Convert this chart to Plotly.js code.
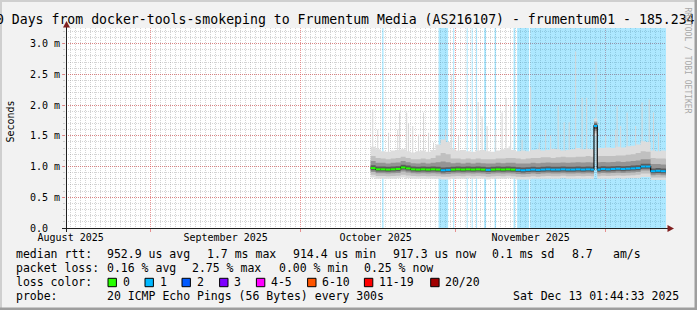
<!DOCTYPE html>
<html><head><meta charset="utf-8">
<script src="https://cdn.plot.ly/plotly-3.0.1.min.js"></script>
<style>html,body{margin:0;padding:0;background:#f2f2f2;}#chart{width:697px;height:310px;}</style>
</head><body><div id="chart"></div>
<script>
// ---------------- data ----------------
const rangeStart = '2025-08-15 01:44:33';
const rangeEnd = '2025-12-13 01:44:33';

const times = ['2025-10-15','2025-10-16','2025-10-17','2025-10-18','2025-10-19','2025-10-20','2025-10-21','2025-10-22','2025-10-23','2025-10-24','2025-10-25','2025-10-26','2025-10-27','2025-10-28','2025-10-29','2025-10-30','2025-10-31',
'2025-11-01','2025-11-02','2025-11-03','2025-11-04','2025-11-05','2025-11-06','2025-11-07','2025-11-08','2025-11-09','2025-11-10','2025-11-11','2025-11-12','2025-11-13','2025-11-14','2025-11-15','2025-11-16','2025-11-17','2025-11-18','2025-11-19','2025-11-20','2025-11-21','2025-11-22','2025-11-23','2025-11-24','2025-11-25','2025-11-26','2025-11-27','2025-11-28',
'2025-11-28 16:00','2025-11-29 08:00',
'2025-11-30','2025-12-01','2025-12-02','2025-12-03','2025-12-04','2025-12-05','2025-12-06','2025-12-07','2025-12-08','2025-12-09','2025-12-10','2025-12-11','2025-12-12','2025-12-13'];

// median rtt in ms
const medianMs = [0.975,0.955,0.955,0.95,0.955,0.96,0.985,0.97,0.955,0.95,0.955,0.95,0.955,0.95,0.94,0.945,0.95,
0.955,0.95,0.955,0.95,0.955,0.95,0.945,0.95,0.955,0.95,0.955,0.95,0.945,0.94,0.945,0.95,0.945,0.95,0.955,0.95,0.95,0.955,0.95,0.95,0.955,0.95,0.955,0.95,
1.66,0.95,
0.96,0.955,0.96,0.965,0.96,0.965,0.97,0.975,1.0,1.0,0.925,0.93,0.925,0.92];

// lost pings (of 20) per sample
const lostPings = [0,0,0,0,0,0,0,0,0,0,0,0,0,0,1,1,0,
0,0,0,0,0,0,1,0,0,0,0,0,1,1,1,1,1,1,1,1,1,1,1,1,1,1,1,1,
1,1,
1,1,1,1,1,1,1,1,1,1,1,1,1,1];

// smoke quantile bands (ms)
const smokeB0 = [0.82,0.80,0.80,0.80,0.80,0.81,0.82,0.81,0.80,0.80,0.80,0.80,0.80,0.80,0.79,0.79,0.80,
0.80,0.80,0.81,0.80,0.80,0.80,0.79,0.80,0.80,0.80,0.81,0.80,0.79,0.79,0.79,0.80,0.80,0.80,0.80,0.80,0.80,0.81,0.80,0.80,0.80,0.80,0.80,0.80,
1.50,0.80,
0.80,0.80,0.80,0.81,0.80,0.81,0.81,0.81,0.83,0.83,0.78,0.78,0.78,0.77];
const smokeB1 = [0.865,0.845,0.845,0.84,0.845,0.85,0.865,0.855,0.845,0.84,0.845,0.84,0.845,0.84,0.835,0.835,0.84,
0.845,0.84,0.85,0.84,0.845,0.84,0.835,0.84,0.845,0.84,0.85,0.84,0.835,0.83,0.835,0.84,0.835,0.84,0.845,0.84,0.84,0.85,0.84,0.84,0.845,0.84,0.845,0.84,
1.54,0.84,
0.85,0.845,0.85,0.855,0.85,0.855,0.86,0.865,0.885,0.885,0.82,0.82,0.82,0.815];
const smokeB2 = [0.91,0.89,0.89,0.885,0.89,0.895,0.92,0.905,0.89,0.885,0.89,0.885,0.89,0.885,0.875,0.88,0.885,
0.89,0.885,0.89,0.885,0.89,0.885,0.88,0.885,0.89,0.885,0.89,0.885,0.88,0.875,0.88,0.885,0.88,0.885,0.89,0.885,0.885,0.89,0.885,0.885,0.89,0.885,0.89,0.885,
1.58,0.885,
0.895,0.89,0.895,0.90,0.895,0.90,0.905,0.91,0.935,0.935,0.86,0.865,0.86,0.855];
const smokeB3 = [0.94,0.92,0.92,0.915,0.92,0.925,0.95,0.935,0.92,0.915,0.92,0.915,0.92,0.915,0.905,0.91,0.915,
0.92,0.915,0.92,0.915,0.92,0.915,0.91,0.915,0.92,0.915,0.92,0.915,0.91,0.905,0.91,0.915,0.91,0.915,0.92,0.915,0.915,0.92,0.915,0.915,0.92,0.915,0.92,0.915,
1.61,0.915,
0.925,0.92,0.925,0.93,0.925,0.93,0.935,0.94,0.965,0.965,0.89,0.895,0.89,0.885];
const smokeT3 = [1.02,1.0,1.0,0.995,1.0,1.005,1.03,1.015,1.0,0.995,1.0,0.995,1.0,0.995,0.985,0.99,0.995,
1.0,0.995,1.0,0.995,1.0,0.995,0.99,0.995,1.0,0.995,1.0,0.995,0.99,0.985,0.99,0.995,0.99,0.995,1.0,0.995,0.995,1.0,0.995,0.995,1.0,0.995,1.0,0.995,
1.70,0.995,
1.005,1.0,1.005,1.01,1.005,1.01,1.015,1.02,1.045,1.045,0.97,0.975,0.97,0.965];
const smokeT2 = [1.09,1.06,1.06,1.05,1.06,1.065,1.09,1.07,1.055,1.05,1.06,1.05,1.06,1.07,1.08,1.07,1.055,
1.06,1.05,1.06,1.05,1.06,1.055,1.05,1.05,1.06,1.055,1.06,1.06,1.05,1.05,1.05,1.06,1.055,1.06,1.065,1.06,1.06,1.065,1.06,1.065,1.07,1.065,1.07,1.065,
1.72,1.07,
1.075,1.07,1.075,1.08,1.075,1.08,1.09,1.10,1.12,1.12,1.04,1.04,1.035,1.03];
const smokeT1 = [1.17,1.14,1.13,1.12,1.13,1.14,1.16,1.14,1.12,1.12,1.13,1.12,1.14,1.18,1.22,1.20,1.13,
1.13,1.12,1.13,1.12,1.13,1.12,1.12,1.12,1.13,1.13,1.14,1.14,1.13,1.12,1.13,1.14,1.14,1.15,1.15,1.14,1.15,1.16,1.15,1.15,1.16,1.16,1.17,1.16,
1.74,1.17,
1.17,1.17,1.17,1.18,1.18,1.19,1.20,1.22,1.25,1.24,1.14,1.13,1.13,1.12];
const smokeT0 = [1.32,1.28,1.25,1.24,1.26,1.27,1.28,1.25,1.23,1.25,1.26,1.24,1.27,1.36,1.44,1.40,1.28,
1.26,1.27,1.25,1.24,1.26,1.27,1.25,1.24,1.26,1.28,1.30,1.27,1.25,1.26,1.25,1.27,1.28,1.26,1.27,1.29,1.28,1.26,1.27,1.28,1.30,1.28,1.29,1.28,
1.78,1.30,
1.30,1.31,1.30,1.32,1.31,1.33,1.34,1.36,1.41,1.40,1.26,1.25,1.26,1.25];

// single high ping samples (ms)
const spikeTimes = ['2025-10-15 10:00','2025-10-16 10:00','2025-10-18 14:00','2025-10-20 10:00','2025-10-20 19:00','2025-10-22 05:00','2025-10-22 14:00','2025-10-23 10:00','2025-10-24 14:00','2025-10-25 14:00','2025-10-26 14:00','2025-10-27 14:00','2025-10-30 00:00','2025-10-31 05:00','2025-11-01 14:00','2025-11-05 12:00','2025-11-06 07:00','2025-11-07 07:00','2025-11-09 00:00','2025-11-10 07:00','2025-11-11 02:00','2025-11-11 17:00','2025-11-12 00:00','2025-11-14 07:00','2025-11-16 00:00','2025-11-17 17:00','2025-11-19 00:00','2025-11-20 00:00','2025-11-21 12:00','2025-11-22 17:00','2025-11-23 17:00','2025-11-25 00:00','2025-11-26 07:00','2025-11-27 05:00','2025-11-29 02:00','2025-12-01 00:00','2025-12-03 00:00','2025-12-03 07:00','2025-12-04 00:00','2025-12-05 07:00','2025-12-07 00:00','2025-12-08 07:00','2025-12-09 17:00','2025-12-10 14:00','2025-12-11 14:00'];
const spikeMax = [1.93,1.60,1.55,1.60,1.88,1.88,1.71,1.66,1.52,1.88,1.55,1.39,1.60,2.50,1.50,2.05,1.82,1.66,1.60,1.88,2.12,1.33,2.00,1.44,2.30,1.39,1.60,1.50,1.98,1.72,1.72,2.87,2.12,2.12,2.70,1.50,1.60,1.98,1.66,1.88,1.66,2.04,2.09,1.88,1.55];

// periods with packet loss (background)
const lossStart = ['2025-10-17 07:00','2025-10-28 14:00','2025-10-31 12:00','2025-11-03 05:00','2025-11-04 05:00','2025-11-05 02:00','2025-11-06 17:00','2025-11-08 19:00','2025-11-12 14:00','2025-11-13 07:00','2025-11-15 22:00'];
const lossEnd   = ['2025-10-17 14:00','2025-10-30 12:00','2025-10-31 17:00','2025-11-03 10:00','2025-11-04 10:00','2025-11-05 07:00','2025-11-07 02:00','2025-11-09 02:00','2025-11-12 22:00','2025-11-15 17:00','2025-12-13 01:44:33'];

const monthLabelDates = ['2025-08-16','2025-09-16','2025-10-16','2025-11-16'];
const monthLabels = ['August 2025','September 2025','October 2025','November 2025'];
const yTickVals = [0,0.5,1.0,1.5,2.0,2.5,3.0];
const yTickText = ['0.0\u00a0\u00a0','0.5 m','1.0 m','1.5 m','2.0 m','2.5 m','3.0 m'];

const lossColors = ['#26ff00','#00b8ff','#0059ff','#7e00ff','#ff00ff','#ff5500','#ff0000','#a10000'];
const lossLabels = ['0','1','2','3','4-5','6-10','11-19','20/20'];

const statsLine1 = [['median rtt:',16.4],['952.9 us avg',107],['1.7 ms max',207],['914.4 us min',293],['917.3 us now',393],['0.1 ms sd',492.4],['8.7',572],['am/s',613]];
const statsLine2 = [['packet loss:',16.4],['0.16 % avg',107],['2.75 % max',192.4],['0.00 % min',279],['0.25 % now',364.4]];
const probeLine = [['probe:',16.4],['20 ICMP Echo Pings (56 Bytes) every 300s',107],['Sat Dec 13 01:44:33 2025',513.3]];
const titleText = '120 Days from docker-tools-smokeping to Frumentum Media (AS216107) - frumentum01 - 185.234';

// ---------------- drawing ----------------
const FONT = 'DejaVu Sans Mono, monospace';
const ML = 66, MT = 28, PW = 600, PH = 200;
const px = p => (p - ML) / PW;
const py = p => (MT + PH - p) / PH;
const toMs = s => Date.parse(s.replace(' ', 'T') + 'Z');
const DAY = 86400000;
const YTOP = 3.254;

const xs = times.concat([rangeEnd]);
const ext = a => a.concat([a[a.length - 1]]);

const traces = [];
// loss background
traces.push({type:'bar', x: lossStart, y: lossStart.map(() => YTOP), base: 0,
  width: lossStart.map((s, i) => toMs(lossEnd[i]) - toMs(s)), offset: 0,
  marker:{color:'rgba(0,184,255,0.32)', line:{width:0}}, hoverinfo:'skip', showlegend:false});
// spikes
const spikeBase = 1.05;
traces.push({type:'bar', x: spikeTimes, y: spikeMax.map(v => v - spikeBase), base: spikeBase,
  width: 0.2 * DAY, offset: -0.1 * DAY,
  marker:{color:'#d6d6d6', line:{width:0}}, hoverinfo:'skip', showlegend:false});
// smoke
const bands = [[smokeB0, smokeT0, '#dddddd'], [smokeB1, smokeT1, '#c0c0c0'], [smokeB2, smokeT2, '#949494'], [smokeB3, smokeT3, '#5c5c5c']];
bands.forEach(([lo, hi, col]) => {
  traces.push({type:'scatter', mode:'lines', x: xs, y: ext(lo), line:{width:0, shape:'hv'}, hoverinfo:'skip', showlegend:false});
  traces.push({type:'scatter', mode:'lines', x: xs, y: ext(hi), line:{width:0, shape:'hv'}, fill:'tonexty', fillcolor: col, hoverinfo:'skip', showlegend:false});
});
// median connector
traces.push({type:'scatter', mode:'lines', x: xs, y: ext(medianMs), line:{width:1.2, shape:'hv', color:'#101010'}, hoverinfo:'skip', showlegend:false});
// coloured median segments
function lossIdx(n){ if(n<=0) return 0; if(n===1) return 1; if(n===2) return 2; if(n===3) return 3; if(n<=5) return 4; if(n<=10) return 5; if(n<=19) return 6; return 7; }
const segs = lossColors.map(() => ({x:[], y:[]}));
medianMs.forEach((m, i) => {
  const s = segs[lossIdx(lostPings[i])];
  s.x.push(xs[i], xs[i+1], null); s.y.push(m, m, null);
});
segs.forEach((s, k) => { if (s.x.length) traces.push({type:'scatter', mode:'lines', x:s.x, y:s.y, line:{width:2, color: lossColors[k]}, hoverinfo:'skip', showlegend:false}); });
// dummy trace for label axis
traces.push({type:'scatter', mode:'markers', x: monthLabelDates, y: monthLabelDates.map(() => null), xaxis:'x2', yaxis:'y', hoverinfo:'skip', showlegend:false});

const GRID = 'rgba(143,143,143,0.38)';
const MGRID = 'rgba(222,79,79,0.6)';

const annotations = [];
function txt(x, y, s, size, extra) {
  annotations.push(Object.assign({xref:'paper', yref:'paper', x: px(x), y: py(y), text: s, showarrow:false,
    xanchor:'left', yanchor:'middle', borderpad:0, borderwidth:0, font:{family:FONT, size:size, color:'#000'}}, extra || {}));
}
txt(-19.8, 19.5, titleText, 13.2);
statsLine1.forEach(([s, x]) => txt(x, 254.3, s, 11.5));
statsLine2.forEach(([s, x]) => txt(x, 268.3, s, 11.5));
txt(16.4, 282.3, 'loss color:', 11.5);
probeLine.forEach(([s, x]) => txt(x, 296, s, 11.5));
txt(9.5, 122, 'Seconds', 10, {textangle:-90, xanchor:'center'});
txt(687.5, 60, 'RRDTOOL / TOBI OETIKER', 8, {textangle:90, xanchor:'center', font:{family:FONT, size:8, color:'#a8a8a8'}});

const shapes = [];
const swatchX = [108,145,182,219.6,256.4,307.6,364.4,430.7];
lossColors.forEach((c, i) => {
  shapes.push({type:'rect', xref:'paper', yref:'paper', x0:px(swatchX[i]), x1:px(swatchX[i]+8.4), y0:py(286.7), y1:py(278.3), fillcolor:c, line:{color:'#000', width:1}});
  txt(swatchX[i] + 14.8, 282.3, lossLabels[i], 11.5);
});
// frame
shapes.push({type:'rect', xref:'paper', yref:'paper', x0:px(0), x1:px(2), y0:py(0), y1:py(310), fillcolor:'#cfcfcf', line:{width:0}});
shapes.push({type:'rect', xref:'paper', yref:'paper', x0:px(0), x1:px(697), y0:py(0), y1:py(2), fillcolor:'#cfcfcf', line:{width:0}});
shapes.push({type:'rect', xref:'paper', yref:'paper', x0:px(694.5), x1:px(697), y0:py(0), y1:py(310), fillcolor:'#9e9e9e', line:{width:0}});
shapes.push({type:'rect', xref:'paper', yref:'paper', x0:px(0), x1:px(697), y0:py(307.5), y1:py(310), fillcolor:'#9e9e9e', line:{width:0}});
// axes + arrows
shapes.push({type:'line', xref:'paper', yref:'paper', x0:px(62), x1:px(668), y0:py(228.5), y1:py(228.5), line:{color:'#1f1f1f', width:1}});
shapes.push({type:'line', xref:'paper', yref:'paper', x0:px(66.5), x1:px(66.5), y0:py(232), y1:py(26), line:{color:'#1f1f1f', width:1}});
shapes.push({type:'path', xref:'paper', yref:'paper', path:`M ${px(66.5)} ${py(21)} L ${px(63)} ${py(27.5)} L ${px(70)} ${py(27.5)} Z`, fillcolor:'#801f1f', line:{width:0}});
shapes.push({type:'path', xref:'paper', yref:'paper', path:`M ${px(674)} ${py(228.5)} L ${px(667.5)} ${py(225)} L ${px(667.5)} ${py(232)} Z`, fillcolor:'#801f1f', line:{width:0}});

const layout = {
  width:697, height:310, autosize:false,
  margin:{l:ML, r:697-ML-PW, t:MT, b:310-MT-PH, pad:0},
  paper_bgcolor:'#f2f2f2', plot_bgcolor:'#ffffff',
  barmode:'overlay', showlegend:false,
  font:{family:FONT, size:10, color:'#000'},
  xaxis:{type:'date', range:[rangeStart, rangeEnd], fixedrange:true,
    tickmode:'linear', tick0:'2025-08-01', dtick:'M1', showticklabels:false,
    showgrid:true, gridcolor:MGRID, griddash:'1px,1px', gridwidth:1,
    ticks:'outside', ticklen:3, tickcolor:MGRID,
    minor:{tickmode:'linear', tick0:'2025-08-01', dtick:DAY, showgrid:true, gridcolor:GRID, griddash:'1px,1px', ticks:''},
    showline:false, zeroline:false},
  xaxis2:{type:'date', overlaying:'x', anchor:'y', side:'bottom', range:[rangeStart, rangeEnd], fixedrange:true,
    tickmode:'array', tickvals:monthLabelDates, ticktext:monthLabels, ticks:'', showgrid:false, showline:false, zeroline:false,
    tickfont:{family:FONT, size:10, color:'#000'}, ticklabelstandoff:2},
  yaxis:{range:[0, YTOP], fixedrange:true, tickmode:'array', tickvals:yTickVals, ticktext:yTickText,
    showgrid:true, gridcolor:MGRID, griddash:'1px,1px', gridwidth:1,
    ticks:'outside', ticklen:3, tickcolor:MGRID, tickfont:{family:FONT, size:10, color:'#000'},
    minor:{tickmode:'linear', tick0:0, dtick:0.1, showgrid:true, gridcolor:GRID, griddash:'1px,1px', ticks:'outside', ticklen:2, tickcolor:GRID},
    showline:false, zeroline:false},
  annotations: annotations,
  shapes: shapes
};
Plotly.newPlot('chart', traces, layout, {staticPlot:true, displayModeBar:false});
</script>
</body></html>
